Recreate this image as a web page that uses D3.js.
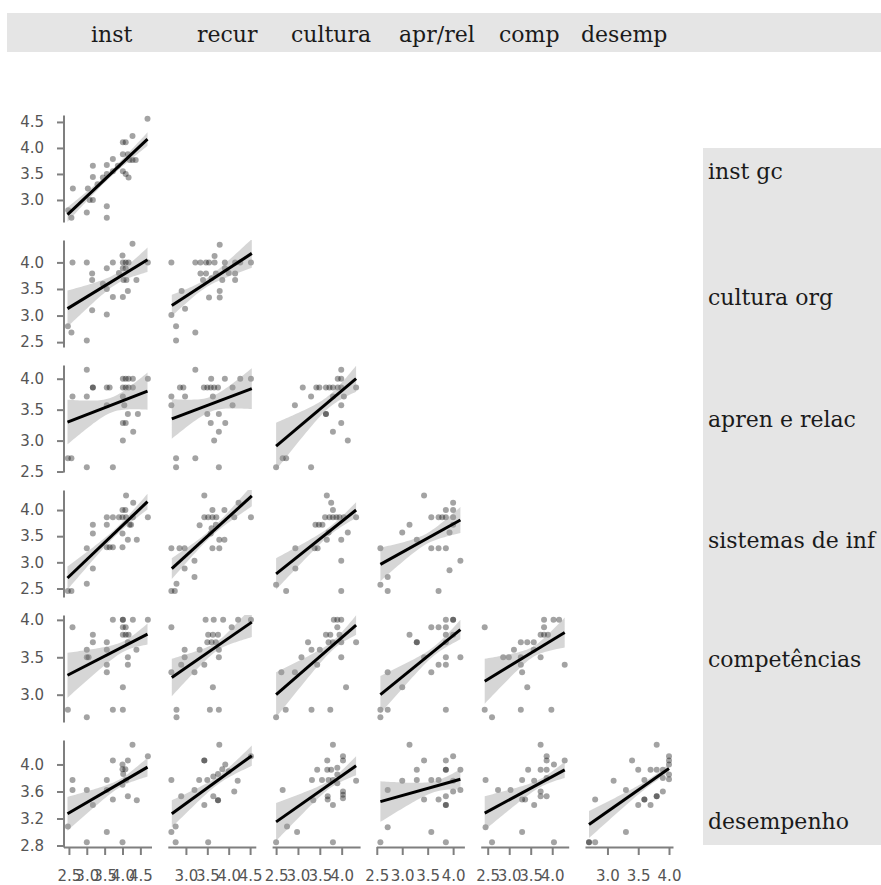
<!DOCTYPE html>
<html>
<head>
<meta charset="utf-8">
<script src="https://cdn.jsdelivr.net/npm/d3@7"></script>
<style>
  body { margin: 0; background: #fff; }
  svg { display: block; }
</style>
</head>
<body>
<svg id="chart" width="881" height="885"></svg>
<script>
// ---- labels and ticks ----
const colLabels = ["inst", "recur", "cultura", "apr/rel", "comp", "desemp"];
const rowLabels = ["inst gc", "cultura org", "apren e relac", "sistemas de inf", "competências", "desempenho"];

// observed range of the seven scores: column j plots score j, row i plots score i+1
const varRanges = [[2.46, 4.70], [2.67, 4.54], [2.5, 4.33], [2.571, 4.143], [2.43, 4.29], [2.7, 4.0], [2.85, 4.29]];

const colTicks = [[2.5, 3, 3.5, 4, 4.5], [3, 3.5, 4, 4.5], [2.5, 3, 3.5, 4], [2.5, 3, 3.5, 4], [2.5, 3, 3.5, 4], [3, 3.5, 4]];
const rowTicks = [[3, 3.5, 4, 4.5], [2.5, 3, 3.5, 4], [2.5, 3, 3.5, 4], [2.5, 3, 3.5, 4], [3, 3.5, 4], [2.8, 3.2, 3.6, 4]];

// ---- respondents per panel, [x, y] ----
const pts11 = [[4.70,4.56],[4.28,4.23],[4.01,4.11],[4.09,4.11],[4.01,3.88],[4.15,3.88],[4.37,3.77],[4.20,3.77],[4.28,3.77],[4.01,3.55],[4.09,3.50],[4.17,3.43],[3.73,3.79],[3.56,3.67],[3.45,3.43],[3.56,3.50],[3.17,3.66],[3.17,3.44],[3.03,3.22],[3.17,3.00],[3.08,3.00],[3.00,2.76],[2.61,3.22],[2.57,2.66],[2.48,2.80],[3.56,2.88],[3.56,2.66],[3.87,3.66],[3.30,3.30],[3.73,3.55]];

const pts21 = [[2.47,2.80],[2.57,2.68],[2.60,4.00],[3.00,4.00],[3.00,2.53],[3.15,3.79],[3.15,3.67],[3.15,3.10],[3.56,3.89],[3.73,4.00],[3.56,3.50],[3.56,3.02],[3.73,3.35],[4.01,3.35],[4.00,4.13],[4.01,4.00],[4.09,4.00],[4.17,4.00],[4.01,3.89],[4.09,3.89],[4.03,3.67],[4.11,3.67],[4.15,3.46],[4.28,4.35],[4.39,3.67],[4.71,4.00],[3.45,3.60],[3.90,3.80]];
const pts22 = [[2.66,4.00],[2.66,3.01],[2.77,2.80],[2.77,2.53],[2.90,3.46],[2.98,3.13],[3.22,2.68],[3.22,4.00],[3.34,4.00],[3.47,4.00],[3.54,4.00],[3.34,3.79],[3.47,3.79],[3.40,3.67],[3.67,4.12],[3.79,4.33],[3.79,3.46],[3.79,3.34],[3.54,3.34],[3.67,4.00],[3.91,4.00],[3.91,3.89],[4.15,3.79],[4.15,3.67],[4.15,4.00],[4.27,4.00],[4.52,4.00],[3.60,3.70],[3.70,3.79],[3.85,3.67],[4.00,3.80]];

const pts31 = [[2.47,2.714],[2.57,2.714],[2.60,3.714],[3.00,4.143],[3.00,3.714],[3.00,2.571],[3.17,3.857],[3.17,3.857],[3.56,3.857],[3.64,3.857],[3.73,2.571],[4.01,4.0],[4.09,4.0],[4.17,4.0],[4.29,4.0],[4.01,3.857],[4.09,3.857],[4.17,3.857],[4.29,3.857],[4.01,3.714],[4.05,3.571],[4.01,3.286],[4.09,3.286],[4.01,3.0],[4.15,3.429],[4.30,3.143],[4.43,3.429],[4.71,4.0],[3.56,3.571]];
const pts32 = [[2.66,3.714],[2.66,3.571],[2.77,2.714],[2.77,2.571],[2.86,3.857],[2.94,3.857],[2.98,3.714],[3.22,4.143],[3.22,2.714],[3.42,3.857],[3.50,3.857],[3.58,3.857],[3.66,3.857],[3.75,3.857],[3.59,4.0],[3.91,4.0],[4.27,4.0],[4.52,4.0],[3.63,3.714],[4.09,3.857],[3.58,3.286],[3.77,3.429],[3.77,3.143],[3.66,3.0],[3.92,3.286],[3.77,2.571],[4.09,3.571],[3.50,3.429]];
const pts33 = [[2.50,2.571],[2.65,2.714],[2.73,2.714],[2.93,3.571],[3.11,3.857],[3.30,3.714],[3.30,2.571],[3.42,3.857],[3.49,3.857],[3.64,3.857],[3.72,3.857],[3.80,3.857],[3.64,3.429],[3.80,3.714],[3.91,4.0],[3.99,4.0],[3.91,3.857],[3.99,3.857],[3.99,4.143],[3.99,3.571],[3.99,3.286],[3.80,3.143],[4.14,3.0],[4.33,3.857],[4.05,3.714],[3.64,3.429]];

const pts41 = [[2.47,2.45],[2.57,2.45],[3.00,2.59],[3.00,3.27],[3.17,2.88],[3.17,3.55],[3.17,3.72],[3.56,3.72],[3.73,3.86],[3.56,3.86],[3.56,3.29],[3.64,3.29],[3.73,3.29],[4.00,3.29],[4.00,4.00],[4.08,4.00],[3.90,3.86],[4.00,3.86],[4.10,3.86],[4.10,4.28],[4.20,3.72],[4.00,3.55],[4.15,3.43],[4.40,3.43],[4.30,4.14],[4.71,3.86],[4.29,3.86],[4.24,3.72]];
const pts42 = [[2.66,2.45],[2.74,2.45],[2.78,2.59],[2.66,3.27],[2.85,3.27],[2.97,3.27],[2.97,2.88],[3.20,2.72],[3.20,3.03],[3.32,3.71],[3.43,3.86],[3.52,3.86],[3.62,3.86],[3.71,3.86],[3.43,4.28],[3.62,4.00],[3.58,3.55],[3.62,3.27],[3.78,3.27],[3.78,3.43],[3.90,3.43],[3.90,4.00],[4.13,3.86],[4.23,4.14],[4.52,3.86],[3.70,3.72],[3.60,3.65]];
const pts43 = [[2.50,2.57],[2.73,2.45],[2.94,2.88],[2.94,3.27],[3.38,3.27],[3.45,3.27],[3.40,3.72],[3.48,3.72],[3.56,3.72],[3.62,3.86],[3.72,3.86],[3.80,3.86],[3.88,3.86],[3.66,4.28],[3.76,4.14],[3.80,4.00],[3.66,3.43],[3.99,3.43],[3.99,3.03],[3.99,2.45],[4.14,3.57],[4.33,3.86],[3.95,3.86],[4.05,3.86],[3.70,3.57]];
const pts44 = [[2.571,3.27],[2.571,2.57],[2.714,2.72],[2.714,2.45],[3.0,3.57],[3.143,3.72],[3.286,3.43],[3.429,4.28],[3.571,3.86],[3.571,3.27],[3.714,3.27],[3.857,3.27],[3.714,3.86],[3.786,3.86],[3.714,2.45],[3.857,4.00],[3.857,3.86],[3.929,2.85],[4.0,4.14],[4.0,4.0],[3.929,3.57],[4.143,3.03],[4.0,3.86],[4.0,3.72]];

const pts51 = [[2.47,2.80],[2.60,3.90],[3.00,2.70],[3.00,3.60],[3.00,3.50],[3.05,3.50],[3.17,3.80],[3.17,3.70],[3.56,3.70],[3.56,3.60],[3.56,3.40],[3.56,3.30],[3.73,4.00],[3.73,2.80],[4.01,2.80],[4.01,4.00],[4.01,4.00],[4.29,4.00],[4.01,3.90],[4.09,3.90],[4.01,3.80],[4.09,3.80],[4.17,3.80],[4.15,3.70],[4.15,3.50],[4.15,3.40],[4.01,3.10],[4.39,3.60],[4.71,4.00]];
const pts52 = [[2.66,3.90],[2.66,3.30],[2.78,2.80],[2.78,2.70],[2.89,3.40],[2.97,3.60],[2.97,3.50],[3.20,3.30],[3.32,3.60],[3.43,3.40],[3.46,4.00],[3.65,4.00],[3.87,4.00],[3.52,3.80],[3.63,3.80],[3.75,3.80],[3.50,3.70],[3.60,3.70],[3.70,3.70],[3.63,3.10],[3.56,2.80],[3.77,2.80],[3.77,3.60],[3.77,3.50],[4.07,3.90],[4.22,4.00],[4.52,4.00]];
const pts53 = [[2.50,2.70],[2.62,3.30],[2.72,2.80],[2.93,3.30],[3.08,3.50],[3.23,3.70],[3.31,3.60],[3.31,2.80],[3.44,3.40],[3.50,3.60],[3.64,3.80],[3.74,3.80],[3.74,2.80],[3.82,4.00],[3.90,4.00],[3.99,4.00],[3.90,3.90],[3.95,3.80],[3.99,3.70],[3.99,3.50],[4.10,3.10],[4.33,3.70],[3.80,3.70],[3.70,3.70]];
const pts54 = [[2.571,2.80],[2.571,2.70],[2.714,2.80],[2.714,3.30],[3.0,3.10],[3.143,3.80],[3.286,3.70],[3.286,3.70],[3.429,3.50],[3.571,3.30],[3.714,3.40],[3.571,3.90],[3.714,3.90],[3.857,3.90],[3.857,4.00],[4.0,4.00],[4.0,4.00],[3.857,2.80],[3.857,3.50],[3.857,3.40],[3.857,3.70],[3.857,3.80],[4.143,3.50],[4.0,3.80]];
const pts55 = [[2.43,3.90],[2.43,2.80],[2.60,2.70],[2.86,3.50],[2.99,3.50],[3.11,3.60],[3.27,3.70],[3.42,3.70],[3.57,3.70],[3.27,3.50],[3.27,3.40],[3.30,3.30],[3.27,2.80],[3.42,3.10],[3.57,3.60],[3.73,3.80],[3.81,3.80],[3.73,3.50],[3.81,4.00],[3.81,3.90],[3.98,2.80],[4.03,4.00],[4.16,4.00],[4.29,3.40],[3.90,3.80]];

const pts61 = [[2.47,3.08],[2.60,3.77],[2.60,3.62],[3.00,2.85],[3.00,3.62],[3.17,3.40],[3.56,3.77],[3.56,3.62],[3.73,3.48],[3.56,3.00],[3.73,4.06],[4.00,4.00],[4.00,3.93],[4.08,3.93],[4.02,3.86],[4.15,4.06],[4.00,2.85],[4.15,3.53],[4.28,4.29],[4.40,3.47],[4.71,4.12],[4.00,3.70],[4.10,3.77]];
const pts62 = [[2.66,3.77],[2.66,3.00],[2.76,2.85],[2.76,3.08],[2.89,3.53],[3.20,3.62],[3.31,3.77],[3.43,4.06],[3.43,4.06],[3.43,3.40],[3.50,3.77],[3.64,3.82],[3.52,2.85],[3.64,3.53],[3.75,3.47],[3.75,3.47],[3.78,4.29],[3.75,3.86],[3.85,3.93],[3.92,4.00],[4.13,3.60],[4.21,3.76],[4.52,4.12],[4.00,3.90]];
const pts63 = [[2.50,2.85],[2.65,3.62],[2.75,3.08],[2.98,3.00],[3.32,3.77],[3.44,3.92],[3.67,4.06],[3.67,3.92],[3.76,3.92],[3.80,4.29],[3.80,3.40],[3.80,2.85],[3.55,3.77],[3.70,3.77],[3.80,3.77],[3.68,3.53],[3.68,3.48],[3.90,3.95],[3.90,3.85],[4.03,4.12],[4.03,4.06],[4.03,3.60],[4.03,3.55],[4.03,3.50],[4.33,3.76],[3.35,3.47],[3.90,3.72]];
const pts64 = [[2.571,2.85],[2.714,3.62],[2.714,3.07],[3.0,3.76],[3.143,4.29],[3.286,3.92],[3.286,3.77],[3.429,4.06],[3.429,3.48],[3.571,3.00],[3.571,3.77],[3.714,3.77],[3.714,3.48],[3.857,4.06],[4.0,4.12],[3.857,3.92],[3.857,3.92],[3.857,3.53],[3.857,3.40],[3.857,3.40],[3.857,2.85],[4.0,3.76],[4.0,3.60],[4.143,3.62],[4.143,3.92]];
const pts65 = [[2.45,3.77],[2.45,3.07],[2.60,2.85],[2.74,3.62],[3.03,3.62],[3.30,3.77],[3.30,3.48],[3.37,3.48],[3.30,3.00],[3.44,3.92],[3.58,3.76],[3.58,3.40],[3.73,4.29],[3.73,3.60],[3.73,3.53],[3.87,3.53],[3.73,3.92],[3.87,3.92],[3.87,4.12],[3.87,4.06],[3.87,3.80],[4.04,2.85],[4.04,4.00],[4.29,4.06]];
const pts66 = [[2.7,2.85],[2.7,2.85],[2.8,2.85],[2.8,3.48],[3.1,3.76],[3.3,3.00],[3.3,3.62],[3.4,4.06],[3.5,3.92],[3.5,3.40],[3.6,3.77],[3.6,3.48],[3.6,3.48],[3.7,3.40],[3.7,3.92],[3.8,3.92],[3.8,4.29],[3.8,3.53],[3.8,3.53],[3.9,3.92],[3.9,3.60],[4.0,4.12],[4.0,4.06],[4.0,4.00],[4.0,3.85],[4.0,3.78],[3.9,3.80]];

const panelPoints = [
  [pts11],
  [pts21, pts22],
  [pts31, pts32, pts33],
  [pts41, pts42, pts43, pts44],
  [pts51, pts52, pts53, pts54, pts55],
  [pts61, pts62, pts63, pts64, pts65, pts66]
];

// linear fit per panel: fitted y at the lowest x, fitted y at the highest x,
// and the 95% band half-width at the left end, at the right end and at its narrowest
const fitStart = [[2.72],[3.13,3.19],[3.30,3.35,2.91],[2.70,2.88,2.78,2.96],[3.26,3.23,3.00,3.00,3.18],[3.27,3.27,3.15,3.45,3.28,3.11]];
const fitEnd   = [[4.17],[4.05,4.17],[3.80,3.84,4.00],[4.16,4.27,4.00,3.81],[3.81,3.97,3.93,3.87,3.83],[3.96,4.13,3.98,3.78,3.92,3.94]];
const bandLeft  = [[0.14],[0.34,0.20],[0.36,0.32,0.38],[0.22,0.20,0.30,0.32],[0.30,0.25,0.30,0.25,0.30],[0.25,0.20,0.28,0.30,0.25,0.20]];
const bandRight = [[0.13],[0.23,0.27],[0.30,0.33,0.21],[0.15,0.20,0.15,0.25],[0.14,0.20,0.13,0.13,0.20],[0.14,0.15,0.14,0.15,0.12,0.07]];
const bandMin   = [[0.06],[0.10,0.08],[0.12,0.12,0.10],[0.07,0.07,0.08,0.10],[0.07,0.06,0.06,0.06,0.07],[0.06,0.06,0.06,0.08,0.06,0.05]];

// ---- layout ----
const svg = d3.select("#chart");
const panelLeft = 63.5, panelW = 88, stepX = 104.3;
const panelTop = 115, panelH = 107, stepY = 125;
const axisColor = "#7f7f7f";
const tickFont = "DejaVu Sans, sans-serif";
const stripFont = "DejaVu Serif, serif";

function padded([a, b]) { const p = (b - a) * 0.05; return [a - p, b + p]; }
function xScale(j) {
  const x0 = panelLeft + j * stepX;
  return d3.scaleLinear().domain(padded(varRanges[j])).range([x0, x0 + panelW]);
}
function yScale(i) {
  const y0 = panelTop + i * stepY;
  return d3.scaleLinear().domain(padded(varRanges[i + 1])).range([y0 + panelH, y0]);
}

// top strip with the column names
svg.append("rect").attr("x", 7).attr("y", 13).attr("width", 874).attr("height", 39).attr("fill", "#e5e5e5");
const headerX = [91, 197, 291, 399, 499, 581];
svg.append("g").selectAll("text").data(colLabels).join("text")
  .attr("x", (d, i) => headerX[i]).attr("y", 42)
  .attr("font-family", stripFont).attr("font-size", 22).attr("fill", "#1a1a1a")
  .text(d => d);

// right strip with the row names
svg.append("rect").attr("x", 703).attr("y", 148).attr("width", 178).attr("height", 697).attr("fill", "#e5e5e5");
const rowLabelY = [179, 305, 427, 548, 667, 829];
svg.append("g").selectAll("text").data(rowLabels).join("text")
  .attr("x", 708).attr("y", (d, i) => rowLabelY[i])
  .attr("font-family", stripFont).attr("font-size", 22).attr("fill", "#1a1a1a")
  .text(d => d);

const defs = svg.append("defs");

// band half-width along x: hyperbolic profile through the three read widths
function bandWidthFn(xL, xR, hL, hR, c) {
  const a = Math.sqrt(Math.max(hL * hL - c * c, 0));
  const b = Math.sqrt(Math.max(hR * hR - c * c, 0));
  if (a + b === 0) return () => c;
  const m = (b * xL + a * xR) / (a + b);
  const k = a > 0 ? Math.pow(a / (m - xL), 2) : Math.pow(b / (xR - m), 2);
  return x => Math.sqrt(c * c + k * (x - m) * (x - m));
}

panelPoints.forEach((rowPanels, i) => {
  const y = yScale(i);
  rowPanels.forEach((pts, j) => {
    const x = xScale(j);
    const id = `clip-${i}-${j}`;
    defs.append("clipPath").attr("id", id).append("rect")
      .attr("x", x.range()[0]).attr("y", y.range()[1])
      .attr("width", panelW).attr("height", panelH);
    const g = svg.append("g").attr("clip-path", `url(#${id})`);

    g.selectAll("circle").data(pts).join("circle")
      .attr("cx", d => x(d[0])).attr("cy", d => y(d[1])).attr("r", 3)
      .attr("fill", "#000").attr("fill-opacity", 0.36);

    const [xL, xR] = varRanges[j];
    const y0 = fitStart[i][j], y1 = fitEnd[i][j];
    const fit = t => y0 + (y1 - y0) * (t - xL) / (xR - xL);
    const hw = bandWidthFn(xL, xR, bandLeft[i][j], bandRight[i][j], bandMin[i][j]);
    const xs = d3.range(0, 41).map(k => xL + (xR - xL) * k / 40);

    g.append("path")
      .datum(xs)
      .attr("d", d3.area().x(t => x(t)).y0(t => y(fit(t) - hw(t))).y1(t => y(fit(t) + hw(t))))
      .attr("fill", "#999999").attr("fill-opacity", 0.4);

    g.append("line")
      .attr("x1", x(xL)).attr("y1", y(y0)).attr("x2", x(xR)).attr("y2", y(y1))
      .attr("stroke", "#000").attr("stroke-width", 3);
  });
});

function styleAxis(g) {
  g.select(".domain").attr("stroke", axisColor).attr("stroke-width", 2);
  g.selectAll(".tick line").attr("stroke", axisColor).attr("stroke-width", 2);
  g.selectAll(".tick text").attr("fill", "#555").attr("font-family", tickFont).attr("font-size", 15);
}

// left axes, one per row
rowLabels.forEach((_, i) => {
  const y = yScale(i);
  svg.append("g")
    .attr("transform", `translate(${panelLeft},0)`)
    .call(d3.axisLeft(y).tickValues(rowTicks[i]).tickFormat(d3.format(".1f"))
      .tickSize(6.5).tickSizeOuter(0).tickPadding(13))
    .call(styleAxis);
});

// bottom axes, one per column
const bottomY = panelTop + 5 * stepY + panelH;
colLabels.forEach((_, j) => {
  const x = xScale(j);
  svg.append("g")
    .attr("transform", `translate(0,${bottomY})`)
    .call(d3.axisBottom(x).tickValues(colTicks[j]).tickFormat(d3.format(".1f"))
      .tickSize(8).tickSizeOuter(0).tickPadding(15))
    .call(styleAxis);
});
</script>
</body>
</html>
